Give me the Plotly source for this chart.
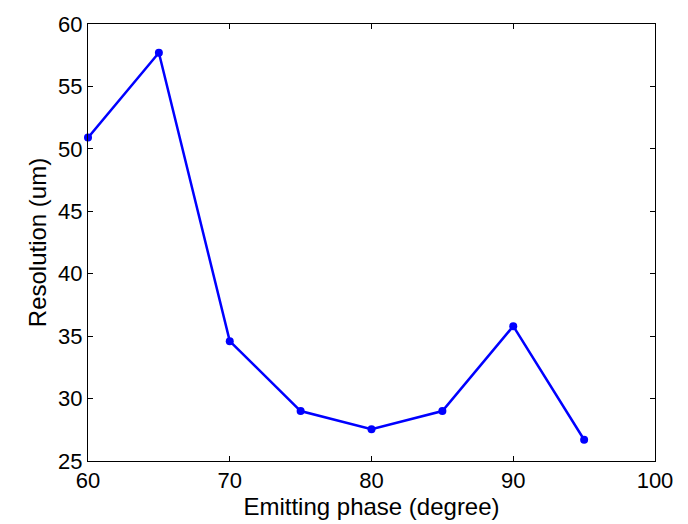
import plotly.graph_objects as go

# Emitting phase vs. resolution
phase_deg = [60, 65, 70, 75, 80, 85, 90, 95]
resolution_um = [50.9, 57.7, 34.6, 29.0, 27.55, 29.0, 35.8, 26.7]

x_ticks = [60, 70, 80, 90, 100]
y_ticks = [25, 30, 35, 40, 45, 50, 55, 60]

FONT = "Liberation Sans, Arial, sans-serif"

fig = go.Figure(
    go.Scatter(
        x=phase_deg,
        y=resolution_um,
        mode="lines+markers",
        line=dict(color="#0000FF", width=2.5),
        marker=dict(color="#0000FF", size=8, symbol="circle"),
        cliponaxis=False,
        showlegend=False,
    )
)

axis_common = dict(
    showgrid=False,
    zeroline=False,
    showline=True,
    linecolor="black",
    linewidth=1,
    mirror="ticks",
    ticks="inside",
    ticklen=5,
    tickcolor="black",
    tickfont=dict(family=FONT, size=22, color="black"),
)

fig.update_xaxes(
    range=[60, 100],
    tickvals=x_ticks,
    title=dict(text="Emitting phase (degree)", standoff=2,
               font=dict(family=FONT, size=24, color="black")),
    **axis_common,
)
fig.update_yaxes(
    range=[25, 60],
    tickvals=y_ticks,
    title=dict(text="Resolution (um)", standoff=4,
               font=dict(family=FONT, size=24, color="black")),
    **axis_common,
)

fig.update_layout(
    width=688,
    height=524,
    margin=dict(l=88, r=33, t=17, b=63),
    paper_bgcolor="white",
    plot_bgcolor="white",
)

fig.write_html("out.html")
